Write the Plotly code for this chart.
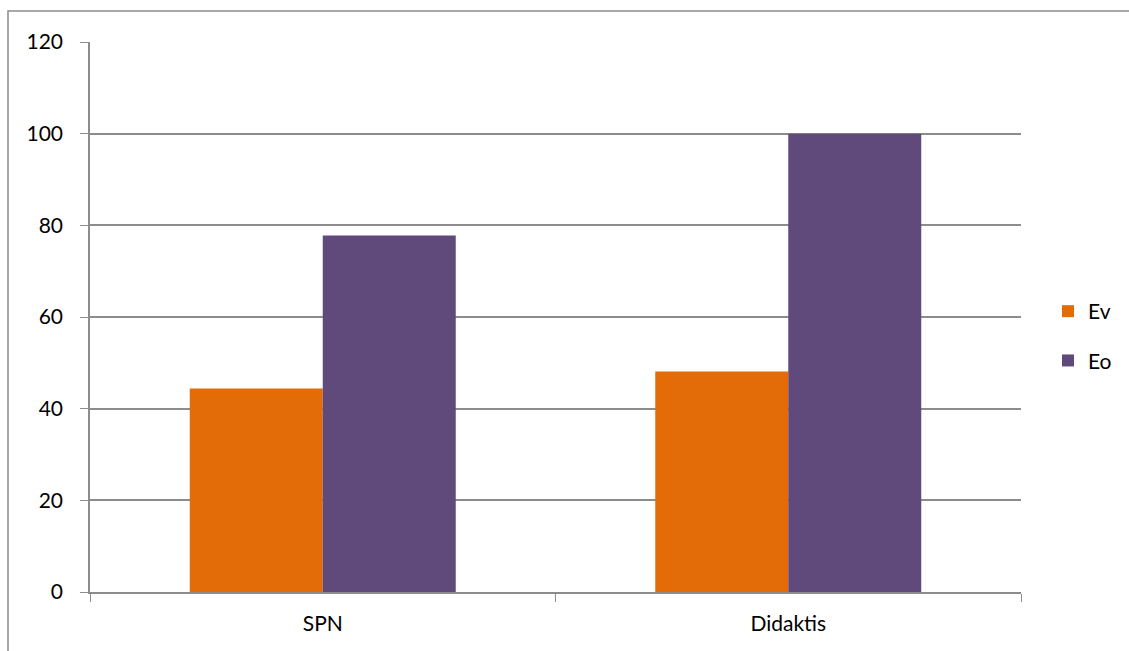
import plotly.graph_objects as go

categories = ["SPN", "Didaktis"]
ev_values = [44.4, 48.1]
eo_values = [77.8, 100]
series_names = ["Ev", "Eo"]
colors = ["#E36C09", "#604A7B"]

W, H = 1129, 651
L, R, T, B = 90, 1129 - 1021, 42, 651 - 592
pw, ph = W - L - R, H - T - B

fig = go.Figure()
fig.add_trace(go.Bar(x=categories, y=ev_values, name=series_names[0],
                     marker=dict(color=colors[0], line=dict(width=0)), legendgroup="a"))
fig.add_trace(go.Bar(x=categories, y=eo_values, name=series_names[1],
                     marker=dict(color=colors[1], line=dict(width=0)), legendgroup="b"))

font = dict(family="Lato, Carlito, Calibri, sans-serif", size=21, color="black")
grid = "#8c8c8c"
fig.update_layout(
    width=W, height=H,
    margin=dict(l=L, r=R, t=T, b=B, autoexpand=False),
    paper_bgcolor="white", plot_bgcolor="white",
    barmode="group", bargap=1.5 / 3.5, bargroupgap=0,
    font=font,
    showlegend=True,
    legend=dict(x=(1048 - L) / pw, y=(592 - 291) / ph, xanchor="left", yanchor="top",
                tracegroupgap=19, font=font, itemwidth=30, bgcolor="rgba(0,0,0,0)"),
    xaxis=dict(showline=True, linecolor=grid, linewidth=1.5, ticks="outside",
               tickson="boundaries", ticklen=8, tickcolor=grid, showgrid=False,
               tickfont=font, ticklabelstandoff=12),
    yaxis=dict(range=[0, 120], dtick=20, showline=True, linecolor=grid, linewidth=1.5,
               ticks="outside", ticklen=8, tickcolor=grid, showgrid=True,
               gridcolor=grid, gridwidth=1.5, zeroline=False, tickfont=font,
               ticklabelstandoff=13),
    shapes=[dict(type="rect", xref="paper", yref="paper",
                 x0=(8 - L) / pw, x1=(W + 20 - L) / pw,
                 y0=(592 - (H + 20)) / ph, y1=(592 - 11) / ph,
                 line=dict(color=grid, width=1.5), fillcolor="rgba(0,0,0,0)", layer="below")],
)

fig.write_html("out.html", config={"displayModeBar": False},
               post_script="document.body.style.margin='0';document.body.style.overflow='hidden';")
